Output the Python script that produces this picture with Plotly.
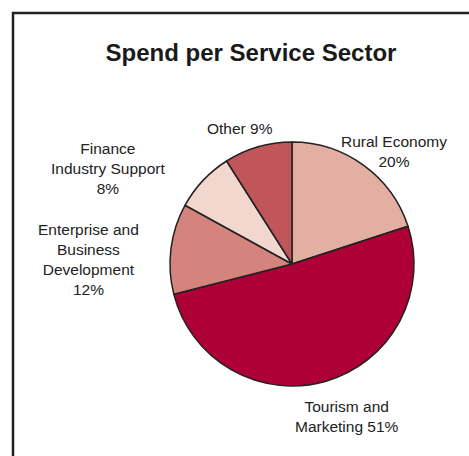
import plotly.graph_objects as go

# Data
categories = ["Rural Economy", "Tourism and Marketing", "Enterprise and Business Development",
              "Finance Industry Support", "Other"]
label_text = ["Rural Economy<br>20%", "Tourism and<br>Marketing 51%",
              "Enterprise and<br>Business<br>Development<br>12%",
              "Finance<br>Industry Support<br>8%", "Other 9%"]
values = [20, 51, 12, 8, 9]
colors = ["#E3AFA2", "#AE0036", "#D4847C", "#F2D7CF", "#C1565A"]

W, H = 469, 456

def px(x):
    return x / W

def py(y):
    return 1 - y / H

# label positions (pixels)
label_pos = [(394, 151), (347, 416), (88, 259), (108, 168), (240, 128)]

fig = go.Figure()
cx, cy, r = 292, 264, 122
fig.add_trace(go.Pie(
    labels=categories, values=values, sort=False, direction="clockwise", rotation=0,
    marker=dict(colors=colors, line=dict(color="#222222", width=1.5)),
    textinfo="none", hoverinfo="label+percent", showlegend=False,
    domain=dict(x=[px(cx - r), px(cx + r)], y=[py(cy + r), py(cy - r)]),
))

annotations = []
for txt, (x, y) in zip(label_text, label_pos):
    annotations.append(dict(
        text=txt, x=px(x), y=py(y), xref="paper", yref="paper",
        xanchor="center", yanchor="middle", showarrow=False, align="center",
        font=dict(family="Liberation Sans, Arial, sans-serif", size=15.5, color="#222222"),
    ))

fig.update_layout(
    width=W, height=H,
    margin=dict(l=0, r=0, t=0, b=0),
    paper_bgcolor="white", plot_bgcolor="white",
    title=dict(text="<b>Spend per Service Sector</b>", x=px(251), y=py(53),
               xanchor="center", yanchor="middle", xref="paper", yref="paper",
               font=dict(family="Liberation Sans, Arial, sans-serif", size=24, color="#1a1a1a")),
    annotations=annotations,
    shapes=[dict(type="rect", xref="paper", yref="paper",
                 x0=px(13), y0=py(13), x1=px(W + 20), y1=py(H + 20),
                 line=dict(color="#222222", width=2.5), fillcolor="rgba(0,0,0,0)")],
)

fig.write_html("out.html", config={"displayModeBar": False},
               post_script="document.body.style.margin='0';document.body.style.overflow='hidden';")
